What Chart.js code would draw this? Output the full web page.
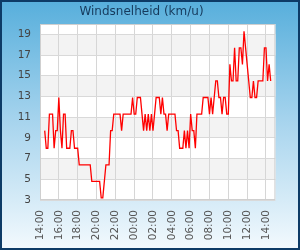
<!DOCTYPE html>
<html>
<head>
<meta charset="utf-8">
<script src="https://cdn.jsdelivr.net/npm/chart.js@4/dist/chart.umd.min.js"></script>
<style>
  html, body { margin: 0; padding: 0; }
  #wrap {
    width: 300px; height: 250px; box-sizing: border-box;
    border: 2px solid #0d3b66;
    background: linear-gradient(to bottom, #58afdc 0%, #a9d5ee 50%, #f2f9fd 100%);
    position: relative;
  }
</style>
</head>
<body>
<div id="wrap"><canvas id="windChart"></canvas></div>
<script>
// x axis runs 14:00 -> 15:00 next day in 10 minute steps
const startHour = 14;
const stepMinutes = 10;
const slotCount = 151;
const firstSample = 3; // first reading at 14:30

const xTickLabels = ['14:00', '16:00', '18:00', '20:00', '22:00', '00:00', '02:00',
                     '04:00', '06:00', '08:00', '10:00', '12:00'];
const yTicks = [3, 5, 7, 9, 11, 13, 15, 17, 19];

// wind speed km/u, one reading per 10 minutes from 14:30
const windSpeed = [
    9.7, 8.0, 8.0, 11.3, 11.3, 11.3, 8.0, 9.7, 9.7, 12.9,
    9.7, 8.0, 11.3, 11.3, 8.0, 8.0, 8.0, 9.7, 9.7, 8.0,
    8.0, 8.0, 6.4, 6.4, 6.4, 6.4, 6.4, 6.4, 6.4, 6.4,
    4.8, 4.8, 4.8, 4.8, 4.8, 4.8, 3.2, 3.2, 4.8, 6.4,
    6.4, 6.4, 9.7, 9.7, 11.3, 11.3, 11.3, 11.3, 11.3, 9.7,
    11.3, 11.3, 11.3, 11.3, 11.3, 11.3, 12.9, 11.3, 11.3, 12.9,
    12.9, 12.9, 11.3, 9.7, 11.3, 9.7, 11.3, 9.7, 11.3, 9.7,
    11.3, 12.9, 12.9, 12.9, 11.3, 12.9, 11.3, 11.3, 9.7, 11.3,
    11.3, 11.3, 11.3, 11.3, 9.7, 9.7, 8.0, 8.0, 8.0, 9.7,
    8.0, 9.7, 8.0, 11.3, 9.7, 9.7, 8.0, 11.3, 11.3, 11.3,
    11.3, 12.9, 12.9, 12.9, 12.9, 11.3, 12.9, 11.3, 12.9, 14.5,
    14.5, 12.9, 12.9, 11.3, 12.9, 12.9, 11.3, 11.3, 16.1, 14.5,
    14.5, 17.7, 14.5, 14.5, 17.7, 17.7, 16.1, 19.3, 17.7, 16.1,
    14.5, 12.9, 12.9, 14.5, 12.9, 12.9, 14.5, 14.5, 14.5, 14.5,
    17.7, 17.7, 14.5, 16.1, 14.5
];

const timeLabels = [];
for (let i = 0; i < slotCount; i++) {
    const m = startHour * 60 + i * stepMinutes;
    const h = Math.floor(m / 60) % 24;
    timeLabels.push(String(h).padStart(2, '0') + ':' + String(m % 60).padStart(2, '0'));
}

const seriesData = timeLabels.map((_, i) => {
    const k = i - firstSample;
    return (k >= 0 && k < windSpeed.length) ? windSpeed[k] : null;
});

const fontFamily = "'DejaVu Sans', sans-serif";

// white plot area with grey bands between every other pair of ticks
const plotBands = {
    id: 'plotBands',
    beforeDraw(chart) {
        const { ctx, chartArea: a, scales: { y } } = chart;
        ctx.save();
        ctx.fillStyle = '#ffffff';
        ctx.fillRect(a.left, a.top, a.right - a.left, a.bottom - a.top);
        ctx.fillStyle = '#f3f3f3';
        const t = y.ticks;
        for (let i = 1; i + 1 < t.length; i += 2) {
            const y1 = y.getPixelForValue(t[i].value);
            const y2 = y.getPixelForValue(t[i + 1].value);
            ctx.fillRect(a.left, y2, a.right - a.left, y1 - y2);
        }
        ctx.restore();
    },
    afterDatasetsDraw(chart) {
        const { ctx, chartArea: a } = chart;
        ctx.save();
        ctx.strokeStyle = '#cfcfcf';
        ctx.lineWidth = 1;
        ctx.strokeRect(a.left + 0.5, a.top + 0.5, a.right - a.left - 1, a.bottom - a.top - 1);
        ctx.restore();
    }
};

new Chart(document.getElementById('windChart'), {
    type: 'line',
    data: {
        labels: timeLabels,
        datasets: [{
            data: seriesData,
            borderColor: '#ff0000',
            borderWidth: 1.3,
            pointRadius: 0,
            tension: 0,
            fill: false
        }]
    },
    options: {
        responsive: true,
        maintainAspectRatio: false,
        animation: false,
        layout: { padding: { left: 0, right: 17, top: 0, bottom: 0 } },
        plugins: {
            legend: { display: false },
            tooltip: { enabled: false },
            title: {
                display: true,
                text: 'Windsnelheid (km/u)',
                color: '#163a5c',
                font: { family: fontFamily, size: 12, weight: 'normal' },
                padding: { top: 3, bottom: 4.6 }
            }
        },
        scales: {
            x: {
                type: 'category',
                offset: false,
                afterFit(scale) { scale.height = 48; },
                grid: {
                    drawTicks: false,
                    color: ctx => (ctx.tick && ctx.tick.value % 12 === 0) ? '#d6d6d6' : 'rgba(0,0,0,0)'
                },
                border: { display: false },
                ticks: {
                    autoSkip: false,
                    minRotation: 90,
                    maxRotation: 90,
                    padding: 10,
                    color: '#555555',
                    font: { family: fontFamily, size: 10.5 },
                    callback(value) {
                        const label = this.getLabelForValue(value);
                        return xTickLabels.includes(label) ? label : '';
                    }
                }
            },
            y: {
                min: 3,
                max: 20,
                afterFit(scale) { scale.width = 38; },
                afterBuildTicks(scale) { scale.ticks = yTicks.map(v => ({ value: v })); },
                grid: { drawTicks: false, color: '#d9d9d9' },
                border: { display: false },
                ticks: {
                    padding: 9,
                    color: '#444444',
                    font: { family: fontFamily, size: 10.5 }
                }
            }
        }
    },
    plugins: [plotBands]
});
</script>
</body>
</html>
